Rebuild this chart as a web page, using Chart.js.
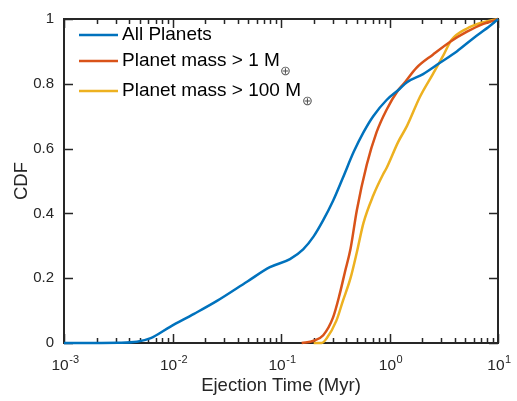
<!DOCTYPE html>
<html>
<head>
<meta charset="utf-8">
<script src="https://cdn.jsdelivr.net/npm/chart.js@4.4.1/dist/chart.umd.min.js"></script>
<style>
  html, body { margin: 0; padding: 0; background: #fff; }
  #wrap { width: 517px; height: 401px; }
</style>
</head>
<body>
<div id="wrap"><canvas id="c" width="517" height="401"></canvas></div>
<script>
// ---- data ----
const seriesLabels = ['All Planets', 'Planet mass > 1 M⊕', 'Planet mass > 100 M⊕'];
const seriesColors = ['#0072BD', '#D95319', '#EDB120'];

// All Planets: ejection time (Myr) and CDF
const allX = [0.001, 0.00316, 0.0047, 0.0063, 0.0095, 0.0158, 0.0257, 0.049, 0.079, 0.121, 0.160, 0.2, 0.245, 0.302, 0.372, 0.468, 0.575, 0.708, 0.94, 1.2, 1.45, 2.04, 2.92, 4.17, 5.89, 8.51, 10];
const allY = [0, 0.001, 0.004, 0.015, 0.05, 0.09, 0.13, 0.19, 0.234, 0.259, 0.289, 0.329, 0.379, 0.439, 0.51, 0.59, 0.65, 0.70, 0.75, 0.78, 0.805, 0.83, 0.865, 0.90, 0.94, 0.98, 1.0];

// Planet mass > 1 M_earth
const m1X = [0.155, 0.2, 0.245, 0.302, 0.347, 0.389, 0.437, 0.50, 0.617, 0.759, 0.94, 1.2, 1.35, 1.78, 2.51, 3.63, 5.13, 7.33, 9.12, 10];
const m1Y = [0, 0.007, 0.024, 0.079, 0.15, 0.22, 0.29, 0.41, 0.55, 0.65, 0.72, 0.78, 0.80, 0.85, 0.89, 0.93, 0.96, 0.985, 0.995, 1.0];

// Planet mass > 100 M_earth
const m100X = [0.2, 0.237, 0.263, 0.324, 0.372, 0.437, 0.50, 0.575, 0.708, 0.871, 0.94, 1.2, 1.45, 1.91, 2.51, 3.16, 3.72, 5.13, 7.33, 10];
const m100Y = [0, 0, 0.014, 0.069, 0.13, 0.20, 0.28, 0.37, 0.455, 0.52, 0.54, 0.62, 0.67, 0.76, 0.83, 0.89, 0.935, 0.97, 0.99, 1.0];

// axes
const xTickValues = [0.001, 0.01, 0.1, 1, 10];
const xTickBase = '10';
const xTickExps = ['-3', '-2', '-1', '0', '1'];
const yTickValues = [0, 0.2, 0.4, 0.6, 0.8, 1];
const yTickLabels = ['0', '0.2', '0.4', '0.6', '0.8', '1'];
const xTitle = 'Ejection Time (Myr)';
const yTitle = 'CDF';

// ---- chart ----
const AXIS = '#262626';
const FONT = "'Liberation Sans', Arial, Helvetica, sans-serif";

function pts(xs, ys) { return xs.map((x, i) => ({ x: x, y: ys[i] })); }

const framePlugin = {
  id: 'frame',
  beforeDatasetsDraw(chart) {
    const { ctx, chartArea: a, scales } = chart;
    const xs = scales.x, ys = scales.y;
    ctx.save();
    ctx.strokeStyle = AXIS;
    ctx.lineWidth = 1.5;
    ctx.lineCap = 'butt';
    ctx.beginPath();
    // x ticks (major + minor), bottom and top, pointing inward
    for (let e = -3; e <= 1; e++) {
      for (let k = 1; k <= 9; k++) {
        const v = k * Math.pow(10, e);
        if (v > 10.0001) break;
        const px = Math.round(xs.getPixelForValue(v)) + 0.5;
        const len = k === 1 ? 9 : 5;
        ctx.moveTo(px, a.bottom); ctx.lineTo(px, a.bottom - len);
        ctx.moveTo(px, a.top); ctx.lineTo(px, a.top + len);
      }
    }
    // y ticks left and right
    yTickValues.forEach(v => {
      const py = Math.round(ys.getPixelForValue(v)) + 0.5;
      ctx.moveTo(a.left, py); ctx.lineTo(a.left + 9, py);
      ctx.moveTo(a.right, py); ctx.lineTo(a.right - 9, py);
    });
    ctx.stroke();
    ctx.lineWidth = 2;
    ctx.strokeRect(a.left, a.top, a.right - a.left, a.bottom - a.top);
    ctx.restore();
  },
  afterDraw(chart) {
    // x tick labels as 10 with superscript exponent, positioned by the x scale
    const { ctx, chartArea: a, scales } = chart;
    ctx.save();
    ctx.fillStyle = AXIS;
    ctx.textBaseline = 'alphabetic';
    ctx.textAlign = 'left';
    xTickValues.forEach((v, i) => {
      const px = scales.x.getPixelForValue(v);
      ctx.font = '15.5px ' + FONT;
      const wb = ctx.measureText(xTickBase).width;
      ctx.font = '11px ' + FONT;
      const we = ctx.measureText(xTickExps[i]).width;
      const x0 = px - (wb + we) / 2 + 1;
      ctx.font = '15.5px ' + FONT;
      ctx.fillText(xTickBase, x0, a.bottom + 27);
      ctx.font = '11px ' + FONT;
      ctx.fillText(xTickExps[i], x0 + wb + 0.5, a.bottom + 19.5);
    });
    ctx.restore();
  }
};

const legendPlugin = {
  id: 'subLegend',
  afterDraw(chart) {
    const { ctx } = chart;
    const rows = [35, 61, 91];
    ctx.save();
    chart.data.datasets.forEach((ds, i) => {
      const y = rows[i];
      ctx.strokeStyle = ds.borderColor;
      ctx.lineWidth = 2.5;
      ctx.beginPath();
      ctx.moveTo(79, y); ctx.lineTo(118, y);
      ctx.stroke();
      let label = ds.label;
      let sub = '';
      if (label.endsWith('⊕')) { sub = '⊕'; label = label.slice(0, -1); }
      ctx.fillStyle = '#000';
      ctx.font = '19px ' + FONT;
      ctx.textBaseline = 'middle';
      ctx.textAlign = 'left';
      ctx.fillText(label, 122, y);
      if (sub) {
        const w = ctx.measureText(label).width;
        ctx.font = '13px ' + FONT;
        ctx.fillStyle = '#555';
        ctx.fillText(sub, 122 + w + 0.5, y + 10);
      }
    });
    ctx.restore();
  }
};

new Chart(document.getElementById('c'), {
  type: 'line',
  data: {
    datasets: [
      { label: seriesLabels[0], data: pts(allX, allY), borderColor: seriesColors[0] },
      { label: seriesLabels[1], data: pts(m1X, m1Y), borderColor: seriesColors[1] },
      { label: seriesLabels[2], data: pts(m100X, m100Y), borderColor: seriesColors[2] }
    ].map(d => Object.assign(d, {
      borderWidth: 2.5, pointRadius: 0, fill: false, tension: 0,
      cubicInterpolationMode: 'monotone', clip: 4, backgroundColor: d.borderColor
    }))
  },
  options: {
    responsive: false,
    animation: false,
    devicePixelRatio: 1,
    layout: { padding: { left: 0, top: 10, right: 19, bottom: 0 } },
    plugins: { legend: { display: false }, tooltip: { enabled: false } },
    scales: {
      x: {
        type: 'logarithmic', min: 0.001, max: 10,
        afterBuildTicks(scale) { scale.ticks = xTickValues.map(v => ({ value: v })); },
        afterFit(scale) { scale.height = 58; },
        grid: { display: false, drawTicks: false },
        border: { display: false },
        ticks: { display: false },
        title: { display: true, text: xTitle, color: AXIS, font: { family: FONT, size: 18.5 }, padding: { top: 0, bottom: 4 } }
      },
      y: {
        min: 0, max: 1,
        afterBuildTicks(scale) { scale.ticks = yTickValues.map(v => ({ value: v })); },
        afterFit(scale) { scale.width = 64; },
        grid: { display: false, drawTicks: false },
        border: { display: false },
        ticks: {
          padding: 10, color: AXIS, font: { family: FONT, size: 15 },
          callback(v) { const i = yTickValues.findIndex(t => Math.abs(t - v) < 1e-9); return i >= 0 ? yTickLabels[i] : ''; }
        },
        title: { display: true, text: yTitle, color: AXIS, font: { family: FONT, size: 18.5 }, padding: { top: 11, bottom: 0 } }
      }
    }
  },
  plugins: [framePlugin, legendPlugin]
});
</script>
</body>
</html>
